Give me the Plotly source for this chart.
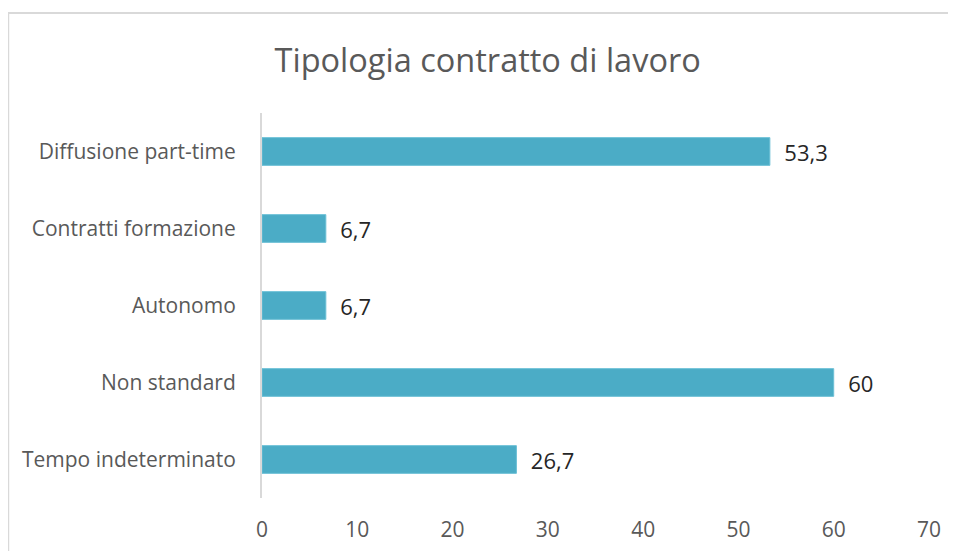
import plotly.graph_objects as go

categories = ["Tempo indeterminato", "Non standard", "Autonomo", "Contratti formazione", "Diffusione part-time"]
values = [26.7, 60, 6.7, 6.7, 53.3]
tick_vals = [0, 10, 20, 30, 40, 50, 60, 70]

# Italian decimal comma, padded away from the bar end
labels = ["\u00a0\u00a0" + f"{v:g}".replace(".", ",") for v in values]

fig = go.Figure()
fig.add_trace(go.Bar(
    y=categories,
    x=values,
    orientation="h",
    marker=dict(color="#4BACC6", line=dict(color="#6cc0d6", width=1)),
    text=labels,
    textposition="outside",
    constraintext="none",
    textfont=dict(family="Open Sans", size=22, color="#262626"),
    cliponaxis=False,
))

fig.update_layout(
    width=948,
    height=543,
    paper_bgcolor="white",
    plot_bgcolor="white",
    margin=dict(l=254, r=27, t=105, b=53),
    bargap=0.64,
    showlegend=False,
    title=dict(
        text="Tipologia contratto di lavoro",
        x=0.506,
        xanchor="center",
        y=0.904,
        yanchor="middle",
        font=dict(family="Open Sans", size=32.5, color="#595959"),
    ),
)
fig.update_xaxes(
    range=[0, 70],
    tickvals=tick_vals,
    automargin=False,
    showgrid=False,
    zeroline=False,
    showline=False,
    ticks="outside",
    ticklen=13,
    tickcolor="rgba(0,0,0,0)",
    tickfont=dict(family="Open Sans", size=21, color="#595959"),
)
fig.update_yaxes(
    automargin=False,
    showgrid=False,
    zeroline=False,
    showline=True,
    linecolor="#d9d9d9",
    linewidth=2,
    ticks="outside",
    ticklen=20,
    tickcolor="rgba(0,0,0,0)",
    tickfont=dict(family="Open Sans", size=21, color="#595959"),
)
# chart frame
fig.add_shape(
    type="rect", xref="paper", yref="paper",
    x0=-0.3805, x1=1.06, y0=-0.16, y1=1.26,
    line=dict(color="#d9d9d9", width=2),
)

fig.write_html("out.html")
